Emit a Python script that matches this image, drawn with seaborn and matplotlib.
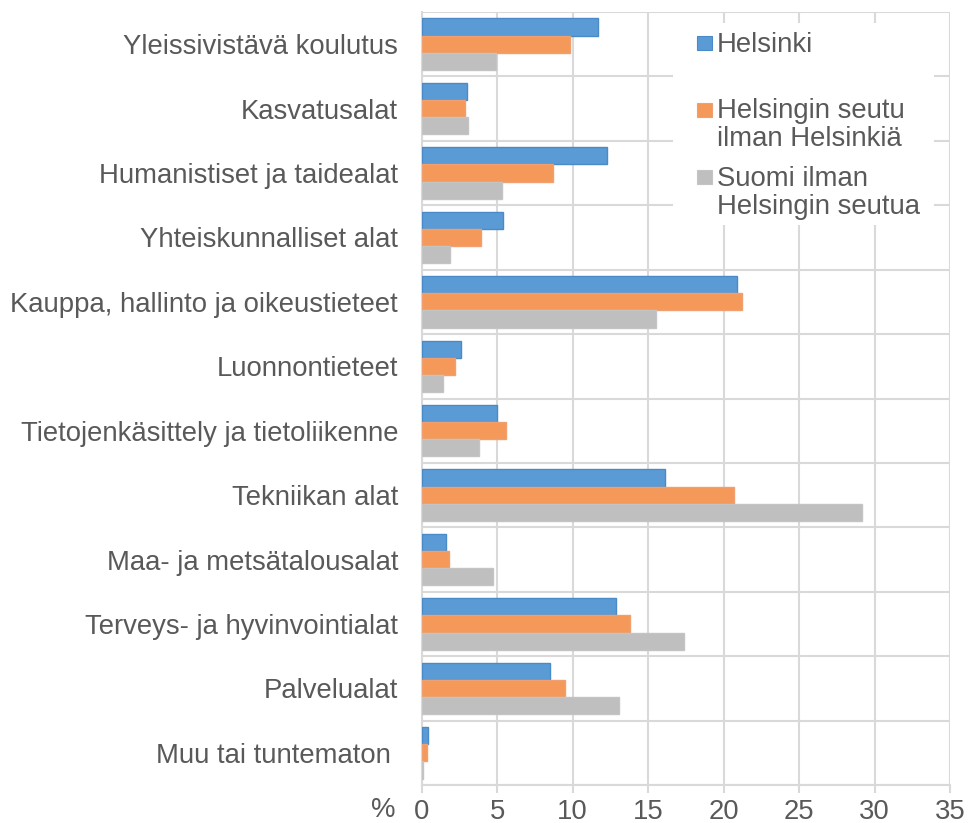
import matplotlib
matplotlib.use("Agg")
import matplotlib.pyplot as plt
from matplotlib.patches import Rectangle
import seaborn as sns
import pandas as pd

categories = ["Yleissivistävä koulutus", "Kasvatusalat", "Humanistiset ja taidealat",
              "Yhteiskunnalliset alat", "Kauppa, hallinto ja oikeustieteet", "Luonnontieteet",
              "Tietojenkäsittely ja tietoliikenne", "Tekniikan alat", "Maa- ja metsätalousalat",
              "Terveys- ja hyvinvointialat", "Palvelualat", "Muu tai tuntematon "]
helsinki = [11.7, 3.0, 12.3, 5.4, 20.9, 2.6, 5.0, 16.1, 1.6, 12.9, 8.5, 0.4]
seutu = [9.8, 2.9, 8.7, 3.9, 21.2, 2.2, 5.6, 20.7, 1.8, 13.8, 9.5, 0.35]
suomi = [4.9, 3.1, 5.3, 1.9, 15.5, 1.4, 3.8, 29.2, 4.7, 17.4, 13.1, 0.1]
series_names = ["Helsinki", "Helsingin seutu\nilman Helsinkiä", "Suomi ilman\nHelsingin seutua"]
x_ticks = [0, 5, 10, 15, 20, 25, 30, 35]
x_unit = "%"

colors = ["#5B9BD5", "#F4995A", "#BFBFBF"]
edges = ["#4A8AC8", "#F0A070", "#C4C4C4"]
txt = "#595959"
gridc = "#D9D9D9"
FS = 19.8

rows = []
for name, vals in zip(series_names, [helsinki, seutu, suomi]):
    for c, v in zip(categories, vals):
        rows.append({"cat": c, "val": v, "series": name})
df = pd.DataFrame(rows)

sns.set_style("white")
plt.rcParams["font.family"] = ["Liberation Sans", "DejaVu Sans"]

W, H = 969, 823
fig = plt.figure(figsize=(W / 100, H / 100), dpi=100)
L, R, T, B = 421.7, 950.0, 12.0, 785.0
ax = fig.add_axes([L / W, 1 - B / H, (R - L) / W, (B - T) / H])

sns.barplot(data=df, y="cat", x="val", hue="series", orient="h",
            hue_order=series_names, order=categories,
            palette=colors, saturation=1, width=0.8, legend=False, ax=ax,
            linewidth=1, zorder=3)
for cont, ec in zip(ax.containers, edges):
    for p in cont:
        p.set_edgecolor(ec)

ax.set_xlim(0, 35)
ax.set_ylim(len(categories) - 0.5, -0.5)
ax.set_xticks(x_ticks)
ax.set_xticklabels([str(t) for t in x_ticks])
ax.set_yticks(range(len(categories)))
ax.set_yticks([i - 0.5 for i in range(len(categories) + 1)], minor=True)
ax.set_xlabel("")
ax.set_ylabel("")
ax.grid(False)
ax.grid(axis="x", which="major", color=gridc, linewidth=1.5, zorder=0)
ax.grid(axis="y", which="minor", color=gridc, linewidth=1.5, zorder=0)
ax.set_axisbelow(True)
for s in ["top", "right"]:
    ax.spines[s].set_visible(False)
for s in ["left", "bottom"]:
    ax.spines[s].set_color(gridc)
    ax.spines[s].set_linewidth(1.5)
ax.tick_params(axis="y", which="both", length=0, pad=17, labelsize=FS, labelcolor=txt)
ax.tick_params(axis="x", which="major", length=6, width=1.5, color=gridc, pad=4,
               labelsize=FS, labelcolor=txt, bottom=True)

# percent unit label
fig.text(383 / W, 1 - 817 / H, x_unit, fontsize=FS, color=txt, ha="center", va="baseline")

# legend (manual, mimicking Excel)
fig.patches.append(Rectangle((673 / W, 1 - 225 / H), (934 - 673) / W, (225 - 23) / H,
                             transform=fig.transFigure, facecolor="white", edgecolor="none", zorder=1))
first_baselines = [51.7, 118.5, 185.5]
line_h = 28
for name, col, ec, bl in zip(series_names, colors, edges, first_baselines):
    fig.patches.append(Rectangle((697 / W, 1 - (bl - 1.5) / H), 15 / W, 14 / H,
                                 transform=fig.transFigure, facecolor=col, edgecolor=ec,
                                 linewidth=0.8, zorder=2))
    for i, line in enumerate(name.split("\n")):
        fig.text(717 / W, 1 - (bl + i * line_h) / H, line, fontsize=FS, color=txt,
                 ha="left", va="baseline", zorder=3)

fig.savefig("out.png", dpi=100)
